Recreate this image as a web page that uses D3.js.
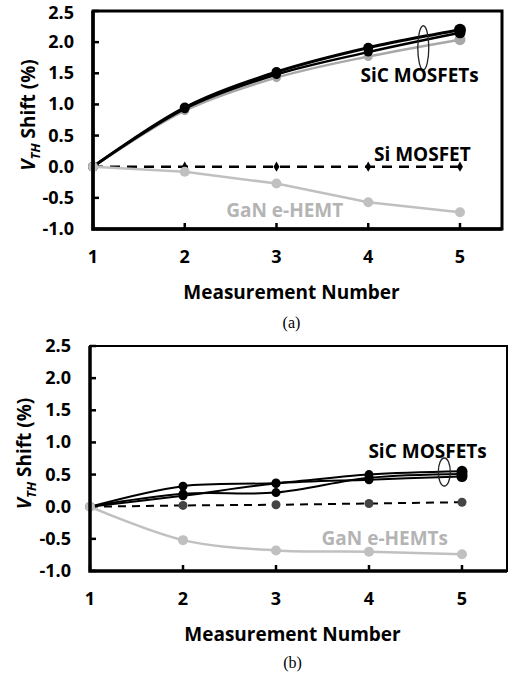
<!DOCTYPE html>
<html>
<head>
<meta charset="utf-8">
<script src="https://cdn.jsdelivr.net/npm/d3@7"></script>
<style>
  body { margin: 0; background: #fff; }
  svg text { font-family: "Open Sans", sans-serif; }
</style>
</head>
<body>
<div id="chart"></div>
<script>
// measurement index and y ticks
var measurements = [1, 2, 3, 4, 5]
var yTicks = [-1.0, -0.5, 0.0, 0.5, 1.0, 1.5, 2.0, 2.5]

// panel (a) values, VTH shift in %
var sicA1 = [0, 0.95, 1.52, 1.91, 2.20]
var sicA2 = [0, 0.93, 1.48, 1.84, 2.15]
var sicA3 = [0, 0.90, 1.43, 1.77, 2.04]
var siA = [0, 0, 0, 0, 0]
var ganA = [0, -0.08, -0.27, -0.57, -0.73]

// panel (b) values
var sicB1 = [0, 0.32, 0.37, 0.50, 0.55]
var sicB2 = [0, 0.20, 0.22, 0.45, 0.51]
var sicB3 = [0, 0.17, 0.36, 0.42, 0.47]
var siB = [0, 0.02, 0.03, 0.05, 0.07]
var ganB = [0, -0.52, -0.68, -0.70, -0.74]

var svg = d3.select("#chart")
  .append("svg")
    .attr("width", 510)
    .attr("height", 676)

function zip(vals) {
  return measurements.map(function(m, i) { return [m, vals[i]] })
}

function drawPanel(p) {
  var x = d3.scaleLinear().domain([1, p.xMax]).range([p.left, p.right])
  var y = d3.scaleLinear().domain([-1, 2.5]).range([p.bottom, p.top])
  var g = svg.append("g")

  // ticks (inside the frame)
  g.selectAll(".yt").data(yTicks).enter().append("line")
    .attr("x1", p.left).attr("x2", p.left + 6)
    .attr("y1", function(d) { return y(d) }).attr("y2", function(d) { return y(d) })
    .attr("stroke", "#000").attr("stroke-width", 2.5)
  g.selectAll(".xt").data(measurements).enter().append("line")
    .attr("x1", function(d) { return x(d) }).attr("x2", function(d) { return x(d) })
    .attr("y1", p.bottom - 6).attr("y2", p.bottom)
    .attr("stroke", "#000").attr("stroke-width", 2.5)

  // tick labels (top one nudged so it stays on the page)
  g.selectAll(".yl").data(yTicks).enter().append("text")
    .attr("x", p.left - 19).attr("y", function(d) { return y(d) + (d == 2.5 && p.top < 20 ? 8 : 6) })
    .attr("text-anchor", "end").attr("font-size", 18).attr("font-weight", 700)
    .text(function(d) { return d.toFixed(1) })
  g.selectAll(".xl").data(measurements).enter().append("text")
    .attr("x", function(d) { return x(d) }).attr("y", p.bottom + 34)
    .attr("text-anchor", "middle").attr("font-size", 18).attr("font-weight", 700)
    .text(function(d) { return d })

  // axis titles
  g.append("text")
    .attr("x", (p.left + p.right) / 2 - 6).attr("y", p.bottom + 70)
    .attr("text-anchor", "middle").attr("font-size", 19).attr("font-weight", 700)
    .text("Measurement Number")
  var yt = g.append("text")
    .attr("transform", "translate(" + p.titleX + "," + ((p.top + p.bottom) / 2 - 5) + ") rotate(-90)")
    .attr("text-anchor", "middle").attr("font-size", 19).attr("font-weight", 700)
  yt.append("tspan").attr("font-style", "italic").text("V")
  yt.append("tspan").attr("font-style", "italic").attr("font-size", 13).attr("dy", 5).text("TH")
  yt.append("tspan").attr("dy", -5).text(" Shift (%)")

  g.append("text")
    .attr("x", (p.left + p.right) / 2 - 6).attr("y", p.bottom + p.capDy)
    .attr("text-anchor", "middle").attr("font-size", 16)
    .style("font-family", "'Liberation Serif', serif")
    .text(p.caption)

  var smooth = d3.line()
    .x(function(d) { return x(d[0]) }).y(function(d) { return y(d[1]) })
    .curve(d3.curveCatmullRom.alpha(0.5))

  // Si dashed
  g.append("path").datum(zip(p.si))
    .attr("d", d3.line().x(function(d) { return x(d[0]) }).y(function(d) { return y(d[1]) }))
    .attr("fill", "none")
    .attr("stroke", "#000").attr("stroke-width", p.dashW).attr("stroke-dasharray", p.dash)
  if (p.siDiamond) {
    g.selectAll(".sid").data(zip(p.si)).enter().append("path")
      .attr("d", d3.symbol().type(d3.symbolDiamond).size(30))
      .attr("transform", function(d) { return "translate(" + x(d[0]) + "," + y(d[1]) + ")" })
      .attr("fill", "#000")
  } else {
    g.selectAll(".sid").data(zip(p.si)).enter().append("circle")
      .attr("cx", function(d) { return x(d[0]) }).attr("cy", function(d) { return y(d[1]) })
      .attr("r", 4.5).attr("fill", "#444")
  }

  // SiC lines
  p.sic.forEach(function(s) {
    g.append("path").datum(zip(s.v))
      .attr("d", smooth).attr("fill", "none")
      .attr("stroke", s.c).attr("stroke-width", s.w)
    g.selectAll(null).data(zip(s.v)).enter().append("circle")
      .attr("cx", function(d) { return x(d[0]) }).attr("cy", function(d) { return y(d[1]) })
      .attr("r", function(d, i) { return i == 4 ? s.r + 1 : s.r }).attr("fill", s.c)
  })

  // GaN
  var gan = zip(p.gan)
  g.append("path").datum(gan)
    .attr("d", d3.line().x(function(d) { return x(d[0]) }).y(function(d) { return y(d[1]) }).curve(p.ganCurve))
    .attr("fill", "none").attr("stroke", "#c0c0c0").attr("stroke-width", 2.5)
  g.selectAll(".gan").data(gan).enter().append("circle")
    .attr("cx", function(d) { return x(d[0]) }).attr("cy", function(d) { return y(d[1]) })
    .attr("r", 5).attr("fill", "#c0c0c0")

  // frame
  g.append("rect")
    .attr("x", p.left).attr("y", p.top)
    .attr("width", p.right - p.left).attr("height", p.bottom - p.top)
    .attr("fill", "none").attr("stroke", "#000").attr("stroke-width", p.frameW)
  g.append("path")
    .attr("d", "M" + p.left + "," + p.top + "V" + p.bottom + "H" + p.right)
    .attr("fill", "none").attr("stroke", "#000").attr("stroke-width", 3.5)

  // annotations
  g.append("ellipse")
    .attr("cx", x(p.ell[0])).attr("cy", y(p.ell[1]))
    .attr("rx", p.ell[2]).attr("ry", p.ell[3])
    .attr("fill", "none").attr("stroke", "#222").attr("stroke-width", 1.3)
  p.labels.forEach(function(l) {
    g.append("text")
      .attr("x", x(l.x)).attr("y", y(l.y))
      .attr("text-anchor", "middle").attr("font-size", 19).attr("font-weight", 700)
      .attr("fill", l.c).text(l.t)
  })
}

drawPanel({
  left: 93, right: 502, top: 11, bottom: 229, xMax: 5.458, titleX: 35,
  caption: "(a)", capDy: 99, frameW: 3, dash: "10,7", dashW: 2.5, siDiamond: true,
  si: siA, gan: ganA, ganCurve: d3.curveLinear,
  sic: [
    { v: sicA3, c: "#a8a8a8", w: 2.5, r: 4.5 },
    { v: sicA2, c: "#000", w: 2.5, r: 4.5 },
    { v: sicA1, c: "#000", w: 3, r: 5 }
  ],
  ell: [4.6, 1.91, 5.5, 22],
  labels: [
    { t: "SiC MOSFETs", x: 4.56, y: 1.36, c: "#000" },
    { t: "Si MOSFET", x: 4.59, y: 0.095, c: "#000" },
    { t: "GaN e-HEMT", x: 3.09, y: -0.81, c: "#b4b4b4" }
  ]
})

drawPanel({
  left: 90, right: 507, top: 346, bottom: 571, xMax: 5.484, titleX: 31,
  caption: "(b)", capDy: 97, frameW: 2, dash: "8,6", dashW: 2, siDiamond: false,
  si: siB, gan: ganB, ganCurve: d3.curveCatmullRom.alpha(0.5),
  sic: [
    { v: sicB3, c: "#000", w: 2, r: 4.5 },
    { v: sicB2, c: "#000", w: 2, r: 4.5 },
    { v: sicB1, c: "#000", w: 2, r: 4.5 }
  ],
  ell: [4.81, 0.54, 6, 14],
  labels: [
    { t: "SiC MOSFETs", x: 4.63, y: 0.76, c: "#000" },
    { t: "GaN e-HEMTs", x: 4.17, y: -0.59, c: "#b4b4b4" }
  ]
})
</script>
</body>
</html>
